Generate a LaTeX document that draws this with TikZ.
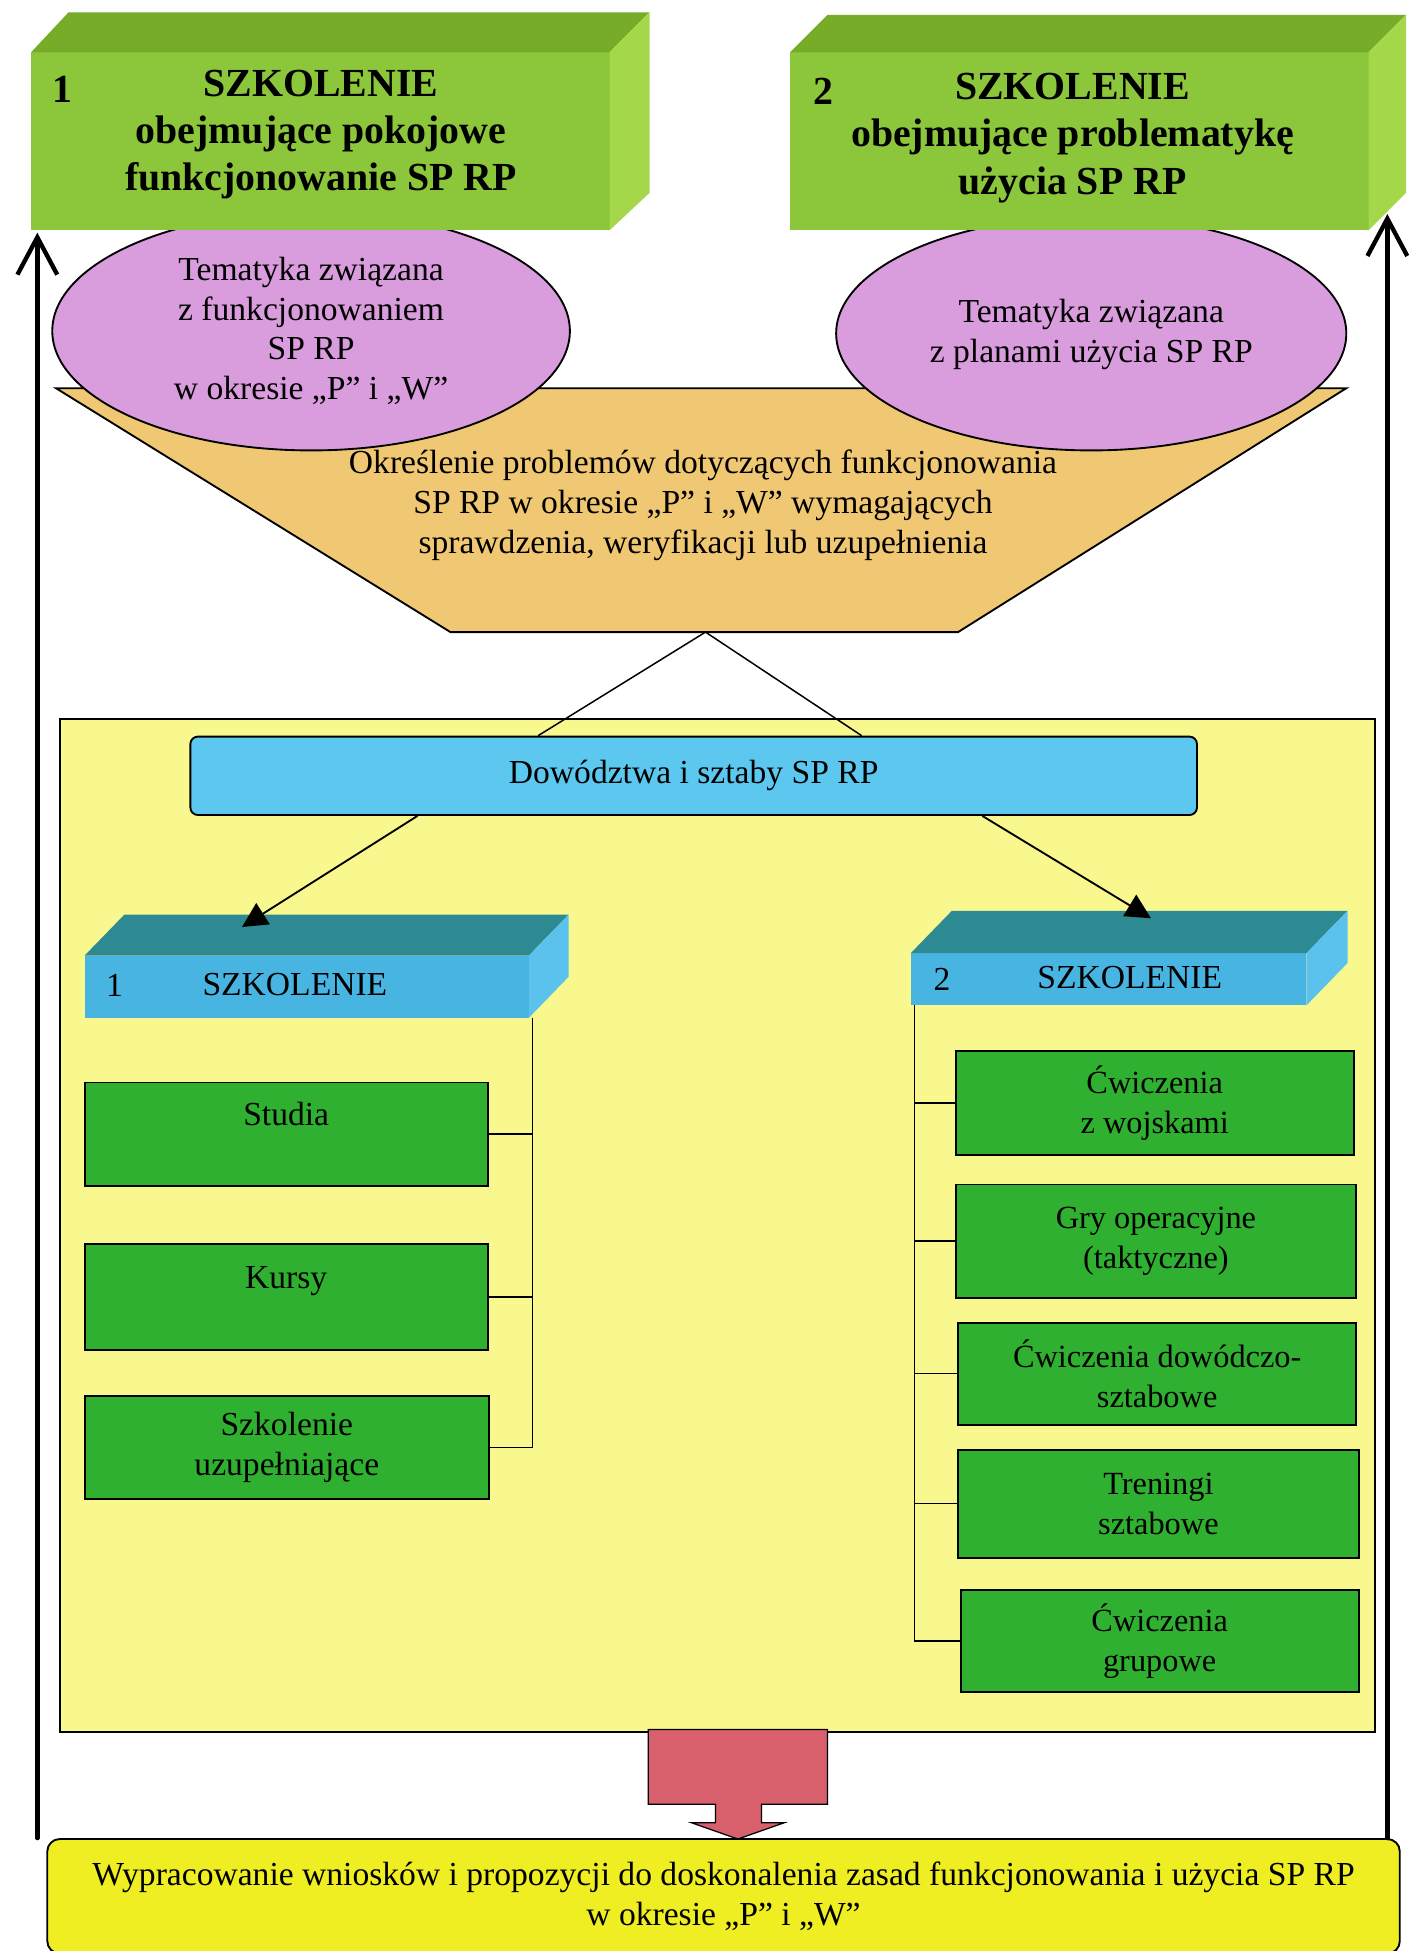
\documentclass[tikz,border=0pt]{standalone}
\usepackage{fontspec}
\setmainfont{Liberation Serif}
\usetikzlibrary{arrows.meta,calc,shapes.geometric}
\definecolor{gfront}{HTML}{8CC63A}
\definecolor{gtop}{HTML}{76AC28}
\definecolor{gside}{HTML}{A4D84A}
\definecolor{violetc}{HTML}{D99CDD}
\definecolor{tanc}{HTML}{F0C772}
\definecolor{panelc}{HTML}{F8F88E}
\definecolor{dowblue}{HTML}{5CC8F0}
\definecolor{bfront}{HTML}{48B4E2}
\definecolor{btop}{HTML}{2E8A92}
\definecolor{bside}{HTML}{5AC2EC}
\definecolor{gboxc}{HTML}{30B030}
\definecolor{redarrow}{HTML}{D8606C}
\definecolor{botyellow}{HTML}{EEEE22}
\begin{document}
\begin{tikzpicture}[x=1pt,y=-1pt,
  facenode/.style={inner sep=0pt, outer sep=0pt},
  gtext/.style={font=\bfseries\fontsize{32}{38}\selectfont, align=center, inner sep=0pt},
  etext/.style={font=\fontsize{27}{32}\selectfont, align=center, inner sep=0pt},
  gsmall/.style={draw=black, line width=1.5pt, fill=gboxc, inner sep=0pt, align=center, font=\fontsize{27}{32}\selectfont},
  rsmall/.style={draw=black, line width=1.5pt, fill=gboxc, inner sep=0pt, align=center, font=\fontsize{26}{32}\selectfont},
  conn/.style={line width=1.2pt},
  pointer/.style={line width=1.5pt, -{Triangle[length=20pt,width=20pt]}},
  bigarrow/.style={line width=3.5pt, line cap=round, -{Straight Barb[length=30pt,width=32pt]}}
]
\useasboundingbox (0,0) rectangle (1132,1568);
\fill[white] (0,0) rectangle (1132,1568);

% trapezoid
\filldraw[fill=tanc, draw=black, line width=1.5pt] (45,312) -- (1082,312) -- (770,508) -- (362,508) -- cycle;
\coordinate (apex) at (567,508);
\node[etext] (trap) at (565,406) {Określenie problemów dotyczących funkcjonowania\\SP RP w okresie „P” i „W” wymagających\\sprawdzenia, weryfikacji lub uzupełnienia};

% ellipses
\node[draw=black, line width=1.5pt, fill=violetc, ellipse, minimum width=416pt, minimum height=192pt, inner sep=0pt] (el1) at (250,266) {};
\node[etext] (el1t) at (250,266) {Tematyka związana\\z funkcjonowaniem\\SP RP\\w okresie „P” i „W”};
\node[draw=black, line width=1.5pt, fill=violetc, ellipse, minimum width=410pt, minimum height=188pt, inner sep=0pt] (el2) at (877,268) {};
\node[etext] (el2t) at (877,269) {Tematyka związana\\z planami użycia SP RP};

% top green 3D boxes
\node[facenode, fill=gfront, minimum width=465pt, minimum height=143pt] (g1) at (257.5,113.5) {};
\fill[gtop] (g1.north west) -- ++(30,-32) -- ++(467,0) -- (g1.north east) -- cycle;
\fill[gside] (g1.north east) -- ++(32,-32) -- ++(0,145) -- (g1.south east) -- cycle;
\node[gtext] (g1t) at (258,108) {SZKOLENIE\\obejmujące pokojowe\\funkcjonowanie SP RP};
\node[gtext] (g1n) at (50,72) {1};

\node[facenode, fill=gfront, minimum width=465pt, minimum height=143pt] (g2) at (867.5,113.5) {};
\fill[gtop] (g2.north west) -- ++(30,-30) -- ++(465,0) -- (g2.north east) -- cycle;
\fill[gside] (g2.north east) -- ++(30,-30) -- ++(0,143) -- (g2.south east) -- cycle;
\node[gtext] (g2t) at (862,111) {SZKOLENIE\\obejmujące problematykę\\użycia SP RP};
\node[gtext] (g2n) at (662,73) {2};

% yellow panel
\node[draw=black, line width=1.5pt, fill=panelc, minimum width=1057pt, minimum height=814pt, inner sep=0pt] (panel) at (576.5,985) {};

% Dowodztwa
\node[draw=black, line width=1.5pt, fill=dowblue, rounded corners=6pt, minimum width=809pt, minimum height=63pt, inner sep=0pt, font=\fontsize{27}{32}\selectfont] (dow) at (557.5,623.5) {Dowództwa i sztaby SP RP};
\draw[conn] (apex) -- ([xshift=-125pt]dow.north);
\draw[conn] (apex) -- ([xshift=135pt]dow.north);

% blue 3D boxes
\node[facenode, fill=bfront, minimum width=357pt, minimum height=50pt] (b1) at (246.5,793) {};
\fill[btop] (b1.north west) -- ++(32,-33) -- ++(357,0) -- (b1.north east) -- cycle;
\fill[bside] (b1.north east) -- ++(32,-33) -- ++(0,50) -- (b1.south east) -- cycle;
\node[etext] (b1t) at (237,791) {SZKOLENIE};
\node[etext] (b1n) at (92,792) {1};

\node[facenode, fill=bfront, minimum width=318pt, minimum height=42pt] (b2) at (891,787) {};
\fill[btop] (b2.north west) -- ++(33,-34) -- ++(318,0) -- (b2.north east) -- cycle;
\fill[bside] (b2.north east) -- ++(33,-34) -- ++(0,42) -- (b2.south east) -- cycle;
\node[etext] (b2t) at (908,786) {SZKOLENIE};
\node[etext] (b2n) at (757,787) {2};

\draw[pointer] ([xshift=-222pt]dow.south) -- ([shift={(-52,-23)}]b1.north);
\draw[pointer] ([xshift=232pt]dow.south) -- ([shift={(34,-28)}]b2.north);

% left green boxes
\node[gsmall, minimum width=324pt, minimum height=83pt] (s1) at (230,911.5) {Studia\\\mbox{}};
\node[gsmall, minimum width=324pt, minimum height=85pt] (s2) at (230,1042.5) {Kursy\\\mbox{}};
\node[gsmall, minimum width=325pt, minimum height=83pt] (s3) at (230.5,1163.5) {Szkolenie\\uzupełniające};
\coordinate (lbus) at (428,818);
\draw[conn] (lbus) |- (s3.east);
\draw[conn] (s1.east) -- (s1.east -| lbus);
\draw[conn] (s2.east) -- (s2.east -| lbus);

% right green boxes
\node[rsmall, minimum width=320pt, minimum height=83pt] (r1) at (928,886.5) {Ćwiczenia\\z wojskami};
\node[rsmall, minimum width=322pt, minimum height=91pt] (r2) at (929,997.5) {Gry operacyjne\\(taktyczne)};
\node[rsmall, minimum width=320pt, minimum height=82pt] (r3) at (930,1104) {Ćwiczenia dowódczo-\\sztabowe};
\node[rsmall, minimum width=322pt, minimum height=87pt] (r4) at (931,1208.5) {Treningi\\sztabowe};
\node[rsmall, minimum width=320pt, minimum height=82pt] (r5) at (932,1319) {Ćwiczenia\\grupowe};
\coordinate (rbus) at (735,808);
\draw[conn] (rbus) |- (r5.west);
\foreach \r in {r1,r2,r3,r4} \draw[conn] (\r.west) -- (\r.west -| rbus);

% red block arrow
\filldraw[fill=redarrow, draw=black, line width=1pt] (521,1390) -- (665,1390) -- (665,1450) -- (612,1450) -- (612,1465) -- (630,1465) -- (593,1478) -- (556,1465) -- (575,1465) -- (575,1450) -- (521,1450) -- cycle;

% bottom box
\node[draw=black, line width=1.5pt, fill=botyellow, rounded corners=10pt, minimum width=1087pt, minimum height=92pt, inner sep=0pt, align=center, font=\fontsize{27}{32}\selectfont] (bot) at (581.5,1524) {Wypracowanie wniosków i propozycji do doskonalenia zasad funkcjonowania i użycia SP RP\\w okresie „P” i „W”};

% big return arrows
\draw[bigarrow] (bot.north west -| 30,0) -- ([yshift=-2pt]g1.south west -| 30,0);
\draw[bigarrow] (bot.north east -| 1115,0) -- ([yshift=13pt]g2.south east -| 1115,0);
\end{tikzpicture}
\end{document}
